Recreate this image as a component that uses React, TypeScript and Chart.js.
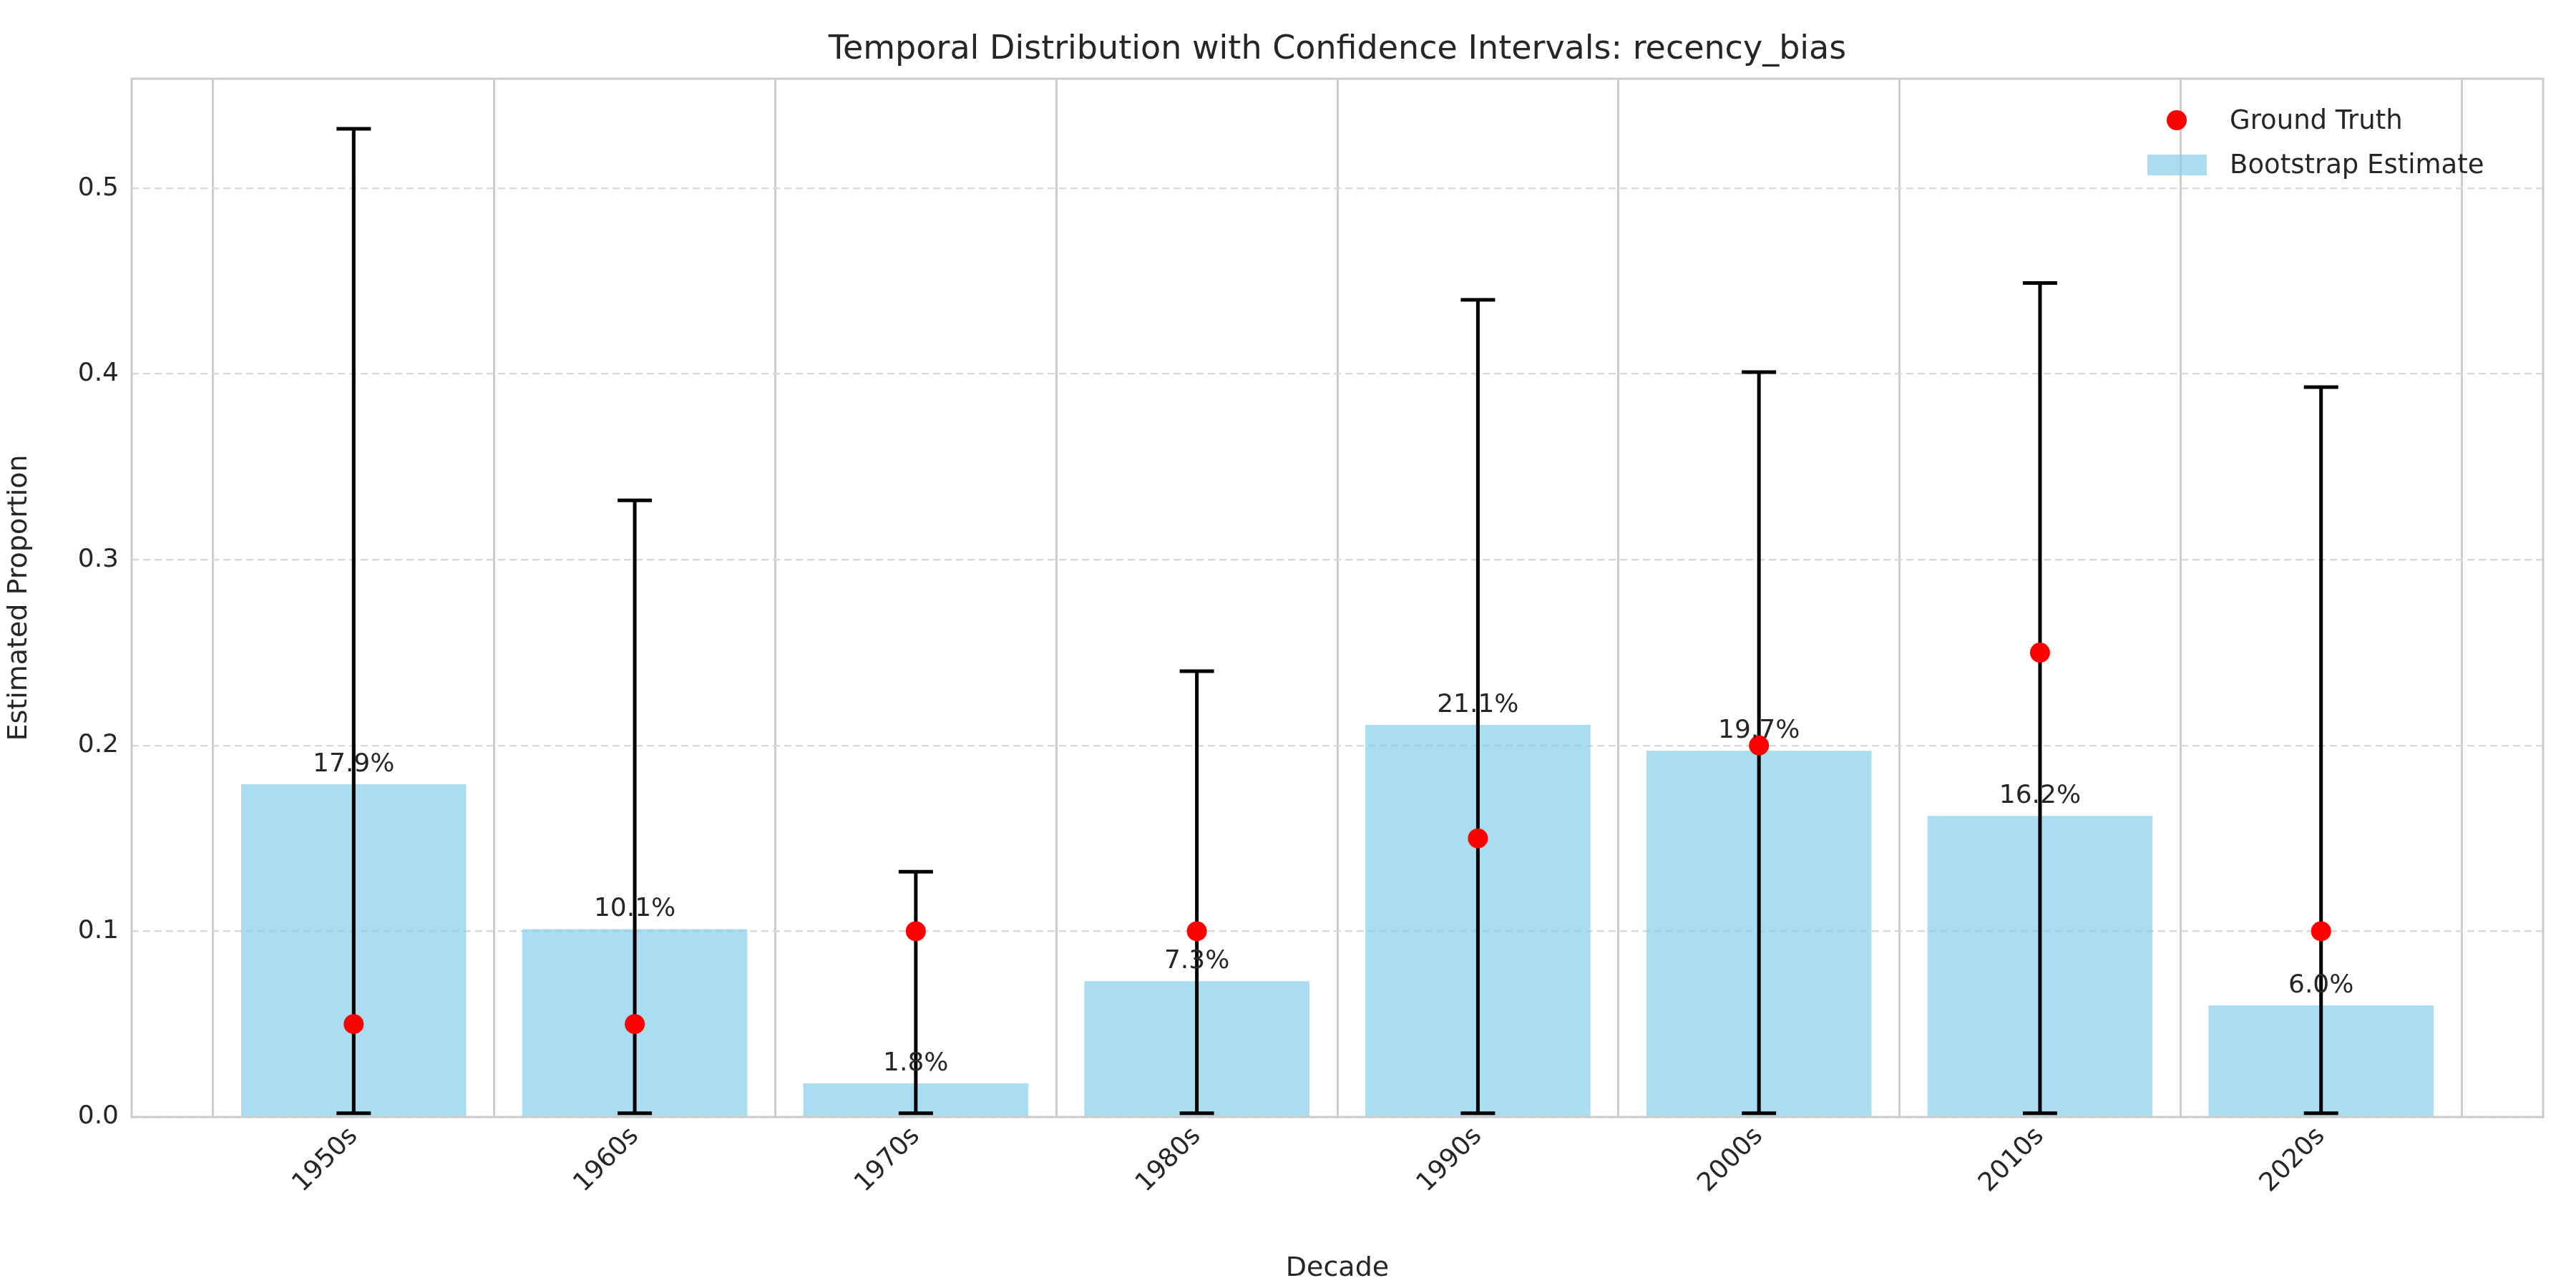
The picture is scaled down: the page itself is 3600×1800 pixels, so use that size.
import { useEffect, useRef } from 'react'
import Chart from 'chart.js/auto'

const decades = ['1950s', '1960s', '1970s', '1980s', '1990s', '2000s', '2010s', '2020s']
const bootstrap = [0.179, 0.101, 0.018, 0.073, 0.211, 0.197, 0.162, 0.06]
const groundTruth = [0.05, 0.05, 0.1, 0.1, 0.15, 0.2, 0.25, 0.1]
const ciLow = [0.002, 0.002, 0.002, 0.002, 0.002, 0.002, 0.002, 0.002]
const ciHigh = [0.532, 0.332, 0.132, 0.24, 0.44, 0.401, 0.449, 0.393]

const FONT = 'DejaVu Sans'
const TEXT = '#262626'
const X_MIN = -0.79
const X_MAX = 7.79

const overlay = {
  id: 'overlay',
  afterDatasetDraw(chart: any, args: any) {
    if (args.index !== 0) return
    const ctx = chart.ctx
    const x = chart.scales.x
    const y = chart.scales.y
    ctx.save()
    ctx.strokeStyle = '#000'
    ctx.lineWidth = 5
    decades.forEach((_, i) => {
      const px = x.getPixelForValue(i)
      const lo = y.getPixelForValue(ciLow[i])
      const hi = y.getPixelForValue(ciHigh[i])
      ctx.beginPath()
      ctx.moveTo(px, lo); ctx.lineTo(px, hi)
      ctx.moveTo(px - 24, lo); ctx.lineTo(px + 24, lo)
      ctx.moveTo(px - 24, hi); ctx.lineTo(px + 24, hi)
      ctx.stroke()
    })
    ctx.restore()
  },
  afterDatasetsDraw(chart: any) {
    const ctx = chart.ctx
    const x = chart.scales.x
    const y = chart.scales.y
    const a = chart.chartArea
    ctx.save()
    ctx.fillStyle = TEXT
    ctx.font = `36px "${FONT}"`
    ctx.textAlign = 'center'
    ctx.textBaseline = 'bottom'
    decades.forEach((_, i) => {
      ctx.fillText((bootstrap[i] * 100).toFixed(1) + '%', x.getPixelForValue(i), y.getPixelForValue(bootstrap[i]) - 10)
    })
    ctx.font = `46px "${FONT}"`
    ctx.textBaseline = 'middle'
    ctx.fillText('Temporal Distribution with Confidence Intervals: recency_bias', (a.left + a.right) / 2, 70)
    ctx.textAlign = 'left'
    ctx.font = `37px "${FONT}"`
    ctx.fillStyle = 'red'
    ctx.beginPath()
    ctx.arc(3042, 168, 14, 0, Math.PI * 2)
    ctx.fill()
    ctx.fillStyle = 'rgba(135,206,235,0.7)'
    ctx.fillRect(3001, 216, 83, 29)
    ctx.fillStyle = TEXT
    ctx.fillText('Ground Truth', 3116, 170)
    ctx.fillText('Bootstrap Estimate', 3116, 232)
    ctx.strokeStyle = '#cccccc'
    ctx.lineWidth = 3
    ctx.strokeRect(a.left, a.top, a.right - a.left, a.bottom - a.top)
    ctx.restore()
  },
}

function TemporalChart() {
  const canvasRef = useRef<HTMLCanvasElement>(null)
  const chartRef = useRef<Chart | null>(null)

  useEffect(() => {
    if (!canvasRef.current) return
    if (chartRef.current) chartRef.current.destroy()

    chartRef.current = new Chart(canvasRef.current, {
      type: 'bar',
      data: {
        datasets: [
          {
            label: 'Bootstrap Estimate',
            data: bootstrap.map((v, i) => ({ x: i, y: v })),
            backgroundColor: 'rgba(135,206,235,0.7)',
            barThickness: 314,
            order: 2,
          } as any,
          {
            type: 'line' as const,
            label: 'Ground Truth',
            data: groundTruth.map((v, i) => ({ x: i, y: v })),
            showLine: false,
            pointRadius: 14,
            pointBackgroundColor: 'red',
            pointBorderWidth: 0,
            order: 1,
          } as any,
        ],
      },
      options: {
        animation: false,
        responsive: true,
        maintainAspectRatio: false,
        layout: { padding: { top: 110, right: 46, left: 0, bottom: 0 } },
        plugins: { legend: { display: false }, title: { display: false }, tooltip: { enabled: false } },
        scales: {
          x: {
            type: 'linear',
            min: X_MIN,
            max: X_MAX,
            offset: false,
            grid: { color: '#cccccc', lineWidth: 3, drawTicks: false },
            border: { display: false },
            afterBuildTicks: (s: any) => { s.ticks = decades.map((_, i) => ({ value: i })) },
            ticks: {
              font: { size: 36, family: FONT }, color: TEXT, maxRotation: 45, minRotation: 45, padding: 6,
              callback: (v: any) => decades[Math.round(Number(v))] ?? '',
            },
            title: { display: true, text: 'Decade', font: { size: 38, family: FONT }, color: TEXT, padding: { top: 0 } },
            afterFit: (s: any) => { s.height = 239 },
          },
          y: {
            min: 0,
            max: 0.559,
            grid: { color: '#d9d9d9', lineWidth: 2.5, drawTicks: false },
            border: { display: false, dash: [10, 6] },
            afterBuildTicks: (s: any) => { s.ticks = [0, 0.1, 0.2, 0.3, 0.4, 0.5].map((v) => ({ value: v })) },
            ticks: { font: { size: 36, family: FONT }, color: TEXT, padding: 18, callback: (v: any) => Number(v).toFixed(1) },
            title: { display: true, text: 'Estimated Proportion', font: { size: 38, family: FONT }, color: TEXT, padding: { bottom: 14 } },
            afterFit: (s: any) => { s.width = 184 },
          },
        },
      },
      plugins: [overlay],
    })

    return () => { chartRef.current?.destroy() }
  }, [])

  return (
    <div style={{ position: 'fixed', left: 0, top: 0, width: 3600, height: 1800, background: '#fff' }}>
      <canvas ref={canvasRef} />
    </div>
  )
}

export default function App() {
  return <TemporalChart />
}
